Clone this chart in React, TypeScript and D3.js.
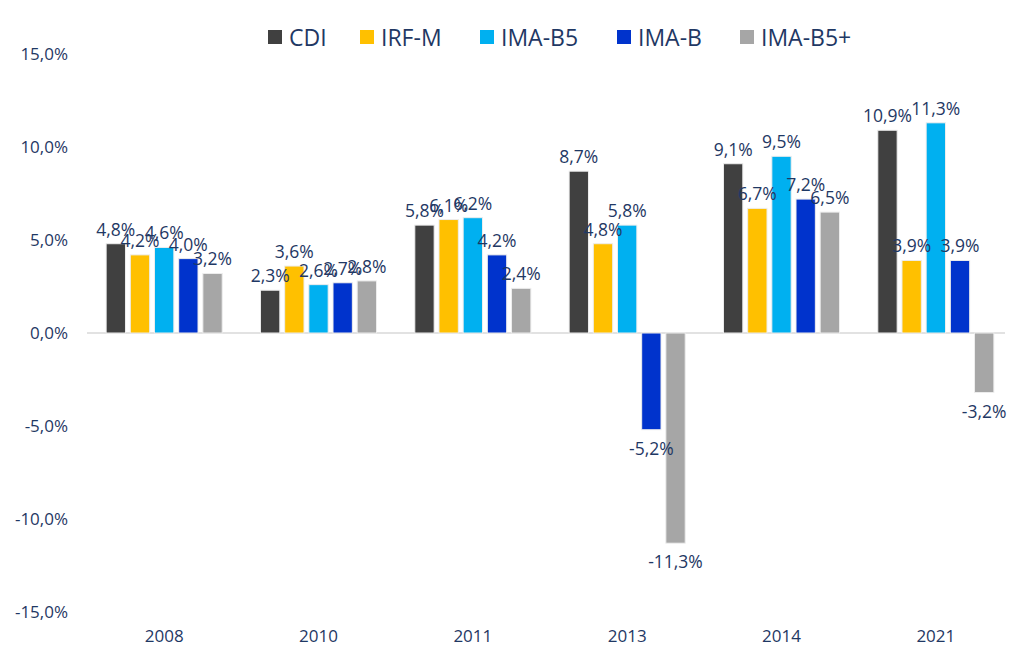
import React from "react"
import * as d3 from "d3"

const years = ["2008", "2010", "2011", "2013", "2014", "2021"]
const seriesNames = ["CDI", "IRF-M", "IMA-B5", "IMA-B", "IMA-B5+"]
const seriesColors = ["#404040", "#FFC000", "#00B0F0", "#0033CC", "#A6A6A6"]

const cdi = [4.8, 2.3, 5.8, 8.7, 9.1, 10.9]
const irfM = [4.2, 3.6, 6.1, 4.8, 6.7, 3.9]
const imaB5 = [4.6, 2.6, 6.2, 5.8, 9.5, 11.3]
const imaB = [4.0, 2.7, 4.2, -5.2, 7.2, 3.9]
const imaB5Plus = [3.2, 2.8, 2.4, -11.3, 6.5, -3.2]

const yTicks = [15, 10, 5, 0, -5, -10, -15]

const allSeries = [cdi, irfM, imaB5, imaB, imaB5Plus]

const W = 1010
const H = 647
const FONT = "'Open Sans', 'Noto Sans', sans-serif"
const TEXT = "#1F3864"

const fmt = (v: number) => v.toFixed(1).replace(".", ",") + "%"

export default function App() {
  const x0 = d3
    .scaleBand<string>()
    .domain(years)
    .range([87, 1013])
    .paddingInner(0.248)
    .paddingOuter(0.124)

  const x1 = d3
    .scaleBand<string>()
    .domain(seriesNames)
    .range([0, x0.bandwidth()])
    .paddingInner(0.2)

  const y = d3.scaleLinear().domain([-15, 15]).range([612, 54])

  const legendX = [268, 360, 480, 617, 740]

  return (
    <svg
      width={W}
      height={H}
      style={{ position: "absolute", left: 0, top: 0, background: "#fff" }}
      fontFamily={FONT}
    >
      {/* y axis labels */}
      {yTicks.map((t) => (
        <text
          key={t}
          x={68}
          y={y(t)}
          dy="0.35em"
          textAnchor="end"
          fontSize={17}
          fill={TEXT}
        >
          {fmt(t)}
        </text>
      ))}

      {/* zero line */}
      <line x1={87} x2={1005} y1={y(0)} y2={y(0)} stroke="#D9D9D9" strokeWidth={1.5} />

      {/* bars */}
      {years.map((yr, i) => (
        <g key={yr} transform={`translate(${x0(yr)},0)`}>
          {allSeries.map((vals, s) => {
            const v = vals[i]
            const bx = x1(seriesNames[s]) as number
            const top = y(Math.max(0, v))
            const h = Math.abs(y(v) - y(0))
            return (
              <rect
                key={s}
                x={bx}
                y={top}
                width={x1.bandwidth()}
                height={h}
                fill={seriesColors[s]}
                stroke="#EDEDED"
                strokeWidth={1}
              />
            )
          })}
        </g>
      ))}

      {/* data labels */}
      {years.map((yr, i) => (
        <g key={yr} transform={`translate(${x0(yr)},0)`}>
          {allSeries.map((vals, s) => {
            const v = vals[i]
            const cx = (x1(seriesNames[s]) as number) + x1.bandwidth() / 2
            const ly = v >= 0 ? y(v) - 8 : y(v) + 25
            return (
              <text
                key={s}
                x={cx}
                y={ly}
                textAnchor="middle"
                fontSize={17.5}
                fill={TEXT}
              >
                {fmt(v)}
              </text>
            )
          })}
        </g>
      ))}

      {/* x labels */}
      {years.map((yr) => (
        <text
          key={yr}
          x={(x0(yr) as number) + x0.bandwidth() / 2}
          y={642}
          textAnchor="middle"
          fontSize={17}
          fill={TEXT}
        >
          {yr}
        </text>
      ))}

      {/* legend */}
      {seriesNames.map((name, s) => (
        <g key={name} transform={`translate(${legendX[s]},0)`}>
          <rect x={0} y={30} width={14} height={14} fill={seriesColors[s]} />
          <text x={21} y={45.5} fontSize={23} fill={TEXT}>
            {name}
          </text>
        </g>
      ))}
    </svg>
  )
}
